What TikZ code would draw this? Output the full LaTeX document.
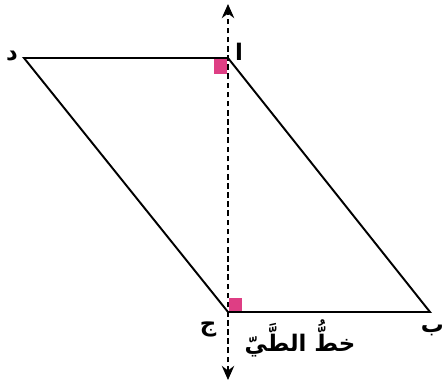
\documentclass[tikz,border=0pt]{standalone}
\usepackage{fontspec}
\usepackage{xcolor}
\usetikzlibrary{arrows.meta, positioning}
\newfontfamily\arabicfont[Script=Arabic]{DejaVu Sans}
\TeXXeTstate=1
\definecolor{rightcol}{RGB}{222,62,132}

\begin{document}
\begin{tikzpicture}[
        x=0.02cm, y=-0.02cm,
        edge/.style={black, line width=1.1pt},
        fold/.style={{Stealth[length=8pt,width=7pt]}-{Stealth[length=8pt,width=7pt]},
                     black, line width=1.5pt, dash pattern=on 3.2pt off 2pt},
        rmark/.style={fill=rightcol, draw=none},
        lbl/.style={font=\arabicfont\bfseries\fontsize{13}{15}\selectfont, inner sep=1pt},
      ]
        \useasboundingbox (0,0) rectangle (447,384);

        % ── Corners ──
        \coordinate (D) at (24,58);
        \coordinate (A) at (228,58);
        \coordinate (C) at (228,312);
        \coordinate (B) at (430,312);
        \coordinate (top) at (228,4);
        \coordinate (bot) at (228,380);

        % ── Right-angle marks ──
        \fill[rmark] (214,59) rectangle (227,74);
        \fill[rmark] (229,298) rectangle (242,311);

        % ── Parallelogram ──
        \draw[edge] (D)--(A)--(B)--(C)--cycle;

        % ── Fold line ──
        \draw[fold] (bot)--(top);

        % ── Labels ──
        \node[lbl] (lD) at (12,56) {\beginR د\endR};
        \node[lbl] (lA) at (239,52) {\beginR ا\endR};
        \node[lbl] (lC) at (208,329) {\beginR ج\endR};
        \node[lbl, anchor=east] (lB) at (446,330) {\beginR ب\endR};
        \node[font=\arabicfont\bfseries\fontsize{13}{15}\selectfont] (fold)
          at (300,338) {\beginR خطُّ الطَّيّ\endR};
      \end{tikzpicture}
\end{document}
